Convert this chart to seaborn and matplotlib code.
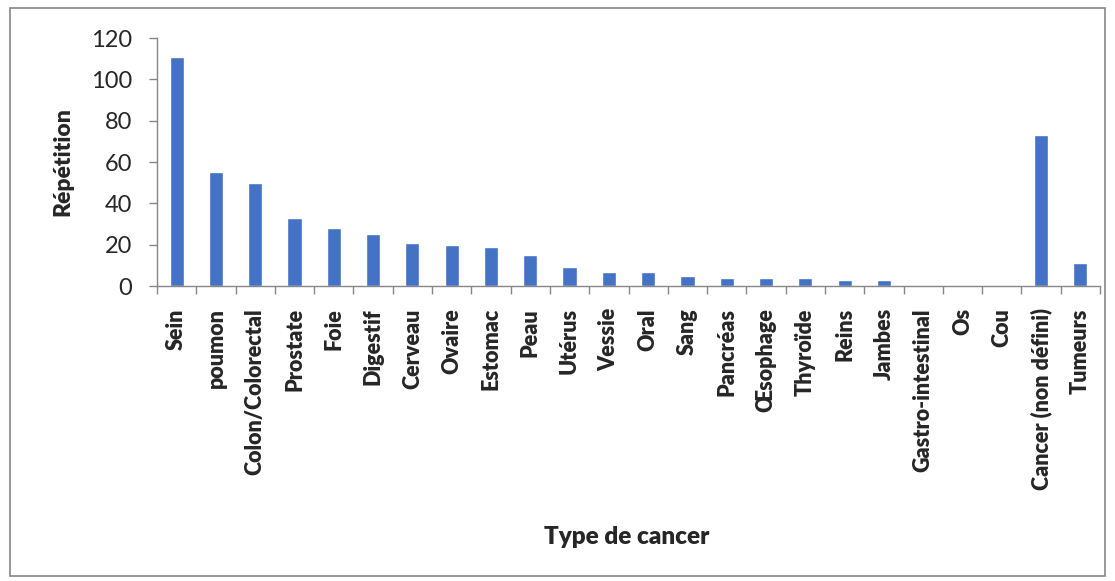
import matplotlib
matplotlib.use("Agg")
import matplotlib.pyplot as plt
from matplotlib.patches import Rectangle
import seaborn as sns
import pandas as pd
import numpy as np

categories = ["Sein", "poumon", "Colon/Colorectal", "Prostate", "Foie", "Digestif",
              "Cerveau", "Ovaire", "Estomac", "Peau", "Utérus", "Vessie", "Oral",
              "Sang", "Pancréas", "Œsophage", "Thyroïde", "Reins", "Jambes",
              "Gastro-intestinal", "Os", "Cou", "Cancer (non défini)", "Tumeurs"]
repetitions = [111, 55, 50, 33, 28, 25, 21, 20, 19, 15, 9, 7, 7, 5, 4, 4, 4, 3, 3,
               0.5, 0.5, 0.5, 73, 11]
y_ticks = [0, 20, 40, 60, 80, 100, 120]

sns.set_style("white")
plt.rcParams["font.family"] = ["Lato", "DejaVu Sans"]

df = pd.DataFrame({"Type de cancer": categories, "Répétition": repetitions})

fig = plt.figure(figsize=(11.15, 5.81), dpi=100)
ax = fig.add_axes([157 / 1115, 1 - 286 / 581, (1100 - 157) / 1115, (286 - 38) / 581])

sns.barplot(data=df, x="Type de cancer", y="Répétition", color="#4472C4",
            width=0.36, saturation=1, ax=ax)

ax.set_ylim(0, 120)
ax.set_yticks(y_ticks)
ax.set_yticklabels([str(v) for v in y_ticks], fontsize=17)
ax.set_xlim(-0.5, len(categories) - 0.5)
ax.set_xticks(range(len(categories)))
ax.set_xticklabels(categories, rotation=90, fontsize=15.5, fontweight="heavy")
ax.set_xticks(np.arange(len(categories) + 1) - 0.5, minor=True)

ax.tick_params(axis="x", which="major", length=0, pad=16)
ax.tick_params(axis="x", which="minor", length=6, color="#868686", width=1, direction="out")
ax.tick_params(axis="y", which="major", length=6, color="#868686", width=1,
               direction="out", pad=12)
ax.xaxis.set_ticks_position("bottom")
ax.yaxis.set_ticks_position("left")

for side in ["top", "right"]:
    ax.spines[side].set_visible(False)
for side in ["left", "bottom"]:
    ax.spines[side].set_color("#868686")
    ax.spines[side].set_linewidth(1)

ax.set_ylabel("Répétition", fontsize=16.5, fontweight="heavy")
ax.set_xlabel("Type de cancer", fontsize=17.5, fontweight="heavy")
ax.xaxis.set_label_coords((627 - 157) / (1100 - 157), -(537 - 286) / (286 - 38))
ax.yaxis.set_label_coords(-(157 - 63) / (1100 - 157), 0.5)
ax.xaxis.label.set_va("center")
ax.yaxis.label.set_va("center")

fig.patches.append(Rectangle((10 / 1115, 1 - 576 / 581), (1105 - 10) / 1115, (576 - 8) / 581,
                             transform=fig.transFigure, fill=False,
                             edgecolor="#868686", linewidth=1.2))

fig.savefig("out.png", dpi=100)
